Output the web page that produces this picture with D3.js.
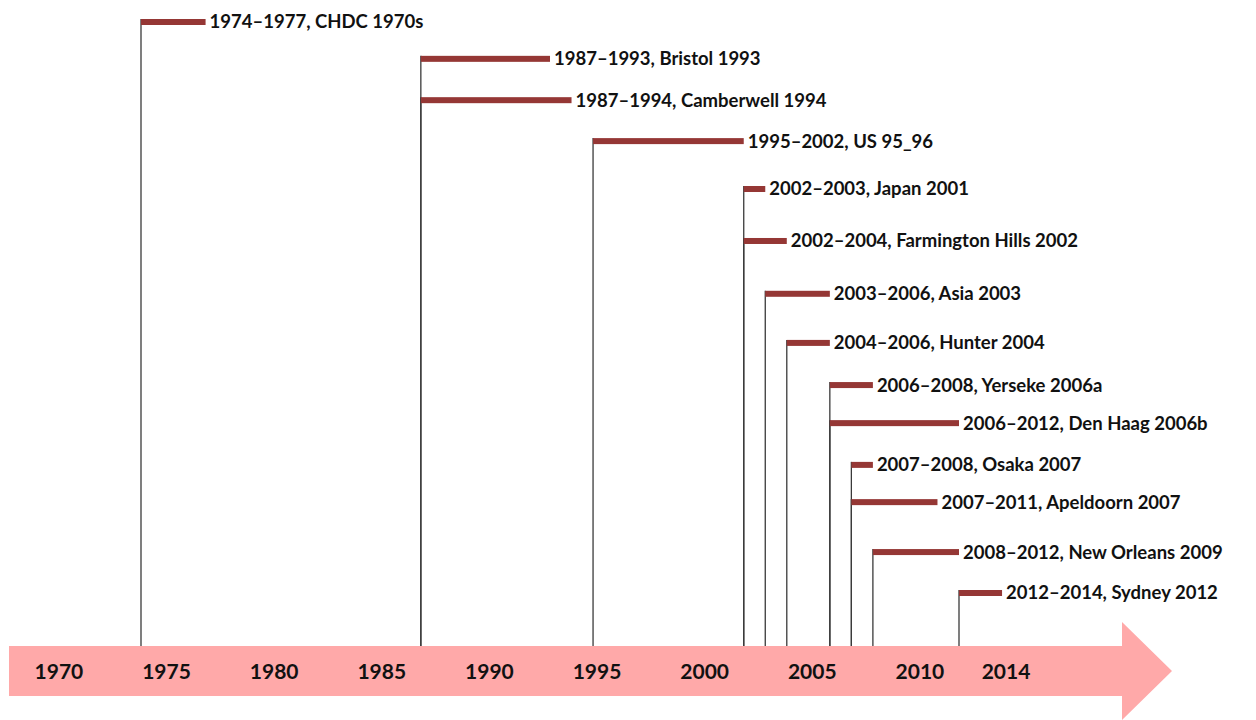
<!DOCTYPE html>
<html>
<head>
<meta charset="utf-8">
<script src="https://cdn.jsdelivr.net/npm/d3@7"></script>
<style>
  body { margin: 0; background: #fff; }
  svg text { font-family: Lato, "Open Sans", sans-serif; font-weight: bold; }
</style>
</head>
<body>
<svg id="chart"></svg>
<script>
// studies: start year, end year, name (drawn top to bottom)
const starts = [1974, 1987, 1987, 1995, 2002, 2002, 2003, 2004, 2006, 2006, 2007, 2007, 2008, 2012];
const ends   = [1977, 1993, 1994, 2002, 2003, 2004, 2006, 2006, 2008, 2012, 2008, 2011, 2012, 2014];
const names  = ['CHDC 1970s', 'Bristol 1993', 'Camberwell 1994', 'US 95_96', 'Japan 2001',
                'Farmington Hills 2002', 'Asia 2003', 'Hunter 2004', 'Yerseke 2006a', 'Den Haag 2006b',
                'Osaka 2007', 'Apeldoorn 2007', 'New Orleans 2009', 'Sydney 2012'];
// row positions are uneven in the original
const rows = [0, 0.9, 1.91, 2.91, 4.08, 5.35, 6.64, 7.84, 8.87, 9.8, 10.82, 11.73, 12.95, 13.95];
const tickYears = [1970, 1975, 1980, 1985, 1990, 1995, 2000, 2005, 2010, 2014];

const width = 1256, height = 720;
const arrowTop = 646, arrowBottom = 696;

const svg = d3.select('#chart').attr('width', width).attr('height', height);

const x = d3.scaleLinear().domain([1974, 2012]).range([141, 959]);
const y = d3.scaleLinear().domain([0, 13.95]).range([22, 593]);

const studies = starts.map((s, i) => ({start: s, end: ends[i], name: names[i], row: rows[i]}));

// big pink arrow
const mid = (arrowTop + arrowBottom) / 2;
const headX = 1122, tipX = 1172;
svg.append('path')
    .attr('d', `M9,${arrowTop} H${headX} V622 L${tipX},${mid} L${headX},720 V${arrowBottom} H9 Z`)
    .attr('fill', '#ffa9a9');

// year labels on the arrow
svg.append('g')
    .selectAll('text')
    .data(tickYears)
    .join('text')
        .attr('x', d => x(d) + 4)
        .attr('y', mid)
        .attr('dy', '0.36em')
        .attr('text-anchor', 'middle')
        .attr('font-size', 21)
        .attr('fill', '#111')
        .text(d => d);

// drop lines
svg.append('g')
    .selectAll('line')
    .data(studies)
    .join('line')
        .attr('x1', d => x(d.start))
        .attr('x2', d => x(d.start))
        .attr('y1', d => y(d.row) - 3)
        .attr('y2', arrowTop)
        .attr('stroke', '#3a3a3a')
        .attr('stroke-width', 1.3);

// bars
svg.append('g')
    .selectAll('rect')
    .data(studies)
    .join('rect')
        .attr('x', d => x(d.start))
        .attr('y', d => y(d.row) - 3)
        .attr('width', d => x(d.end) - x(d.start))
        .attr('height', 6)
        .attr('fill', '#953735');

// bar labels
svg.append('g')
    .selectAll('text')
    .data(studies)
    .join('text')
        .attr('x', d => x(d.end) + 4)
        .attr('y', d => y(d.row))
        .attr('dy', '0.35em')
        .attr('font-size', 18.5)
        .attr('fill', '#111')
        .text(d => `${d.start}–${d.end}, ${d.name}`);
</script>
</body>
</html>
